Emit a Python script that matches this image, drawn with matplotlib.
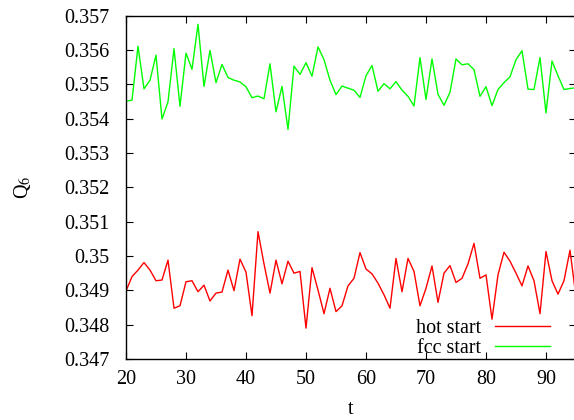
import matplotlib
matplotlib.use("Agg")
import matplotlib.pyplot as plt
import numpy as np

t = list(range(20, 96))

hot_start = [0.34898, 0.34940, 0.34959, 0.34981, 0.34959, 0.34928, 0.34930, 0.34988, 0.34848, 0.34855,
             0.34925, 0.34928, 0.34896, 0.34915, 0.34869, 0.34892, 0.34895, 0.34959, 0.34899, 0.34991,
             0.34953, 0.34826, 0.35071, 0.34977, 0.34892, 0.34988, 0.34919, 0.34985, 0.34950, 0.34955,
             0.34790, 0.34966, 0.34901, 0.34832, 0.34906, 0.34838, 0.34855, 0.34913, 0.34935, 0.35010,
             0.34962, 0.34948, 0.34921, 0.34887, 0.34848, 0.34993, 0.34896, 0.34993, 0.34955, 0.34855,
             0.34906, 0.34971, 0.34865, 0.34950, 0.34972, 0.34923, 0.34935, 0.34977, 0.35037, 0.34935,
             0.34945, 0.34816, 0.34945, 0.35011, 0.34985, 0.34950, 0.34913, 0.34971, 0.34928, 0.34832,
             0.35013, 0.34928, 0.34889, 0.34928, 0.35017, 0.34880]

fcc_start = [0.35451, 0.35454, 0.35611, 0.35487, 0.35512, 0.35585, 0.35399, 0.35449, 0.35604, 0.35436,
             0.35591, 0.35544, 0.35675, 0.35494, 0.35599, 0.35505, 0.35558, 0.35520, 0.35512, 0.35507,
             0.35493, 0.35461, 0.35466, 0.35458, 0.35560, 0.35420, 0.35494, 0.35369, 0.35553, 0.35529,
             0.35563, 0.35524, 0.35609, 0.35572, 0.35512, 0.35470, 0.35495, 0.35489, 0.35483, 0.35462,
             0.35525, 0.35555, 0.35480, 0.35502, 0.35487, 0.35508, 0.35483, 0.35465, 0.35437, 0.35578,
             0.35456, 0.35574, 0.35471, 0.35439, 0.35477, 0.35574, 0.35557, 0.35560, 0.35543, 0.35465,
             0.35493, 0.35438, 0.35485, 0.35505, 0.35522, 0.35572, 0.35598, 0.35486, 0.35485, 0.35578,
             0.35417, 0.35568, 0.35525, 0.35485, 0.35488, 0.35490]

x_ticks = [20, 30, 40, 50, 60, 70, 80, 90]
y_ticks = [0.347, 0.348, 0.349, 0.350, 0.351, 0.352, 0.353, 0.354, 0.355, 0.356, 0.357]
y_tick_labels = ["0.347", "0.348", "0.349", "0.35", "0.351", "0.352", "0.353", "0.354", "0.355", "0.356", "0.357"]

plt.rcParams['font.family'] = ['Liberation Serif', 'DejaVu Serif']
plt.rcParams['mathtext.fontset'] = 'stix'

fig = plt.figure(figsize=(5.74, 4.2), dpi=100)
W, H = 574, 420
left, right, top, bottom = 126, 576, 15.7, 359
ax = fig.add_axes([left / W, 1 - bottom / H, (right - left) / W, (bottom - top) / H])

ax.plot(t, hot_start, color='#ff0000', lw=1.0, label='hot start')
ax.plot(t, fcc_start, color='#00ff00', lw=1.0, label='fcc start')

ax.set_xlim(20, 95)
ax.set_ylim(0.347, 0.357)
ax.set_xticks(x_ticks)
ax.set_xticklabels([str(v) for v in x_ticks])
ax.set_yticks(y_ticks)
ax.set_yticklabels(y_tick_labels)
ax.tick_params(direction='in', length=5, width=0.8, top=True, right=True, labelsize=14.5, colors='black')
ax.tick_params(axis='x', pad=8)
ax.tick_params(axis='y', pad=12)
for s in ax.spines.values():
    s.set_linewidth(1.0)

ax.set_xlabel('t', fontsize=14.5, labelpad=8)
ax.set_ylabel(r'Q$_6$', fontsize=14.5, labelpad=22)

leg = ax.legend(loc='lower right', bbox_to_anchor=(0.968, -0.032), frameon=False, markerfirst=False,
                fontsize=14.5, handlelength=2.7, handletextpad=0.7, labelspacing=0.05, borderaxespad=0.2)

fig.savefig('out.png', dpi=100)
